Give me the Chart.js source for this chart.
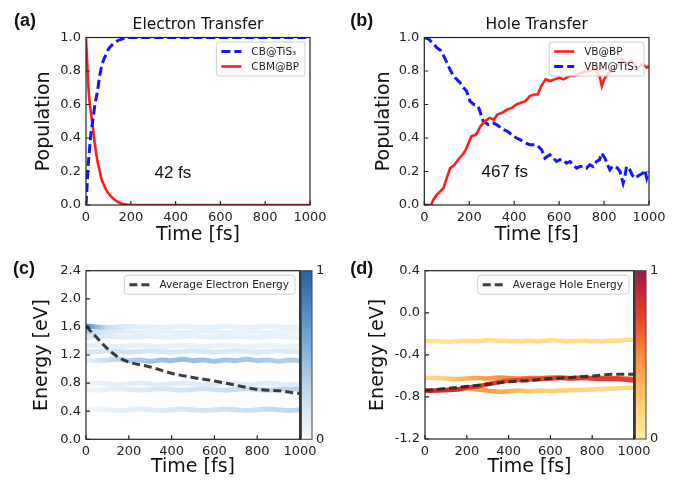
<!DOCTYPE html>
<html>
<head>
<meta charset="utf-8">
<script src="https://cdn.jsdelivr.net/npm/chart.js@4.4.1/dist/chart.umd.min.js"></script>
<style>
  html, body { margin: 0; padding: 0; background: #fff; }
  #wrap { position: relative; width: 689px; height: 483px; overflow: hidden; }
  #wrap canvas { position: absolute; }
</style>
</head>
<body>
<div id="wrap">
  <canvas id="chartA" width="345" height="250" style="left:0;top:0"></canvas>
  <canvas id="chartB" width="344" height="250" style="left:345px;top:0"></canvas>
  <canvas id="chartC" width="345" height="253" style="left:0;top:230px"></canvas>
  <canvas id="chartD" width="344" height="253" style="left:345px;top:230px"></canvas>
</div>
<script>
// tick labels
const timeTicks = [0, 200, 400, 600, 800, 1000];
const popTicks = [0, 0.2, 0.4, 0.6, 0.8, 1.0];
const elecTicks = [0, 0.4, 0.8, 1.2, 1.6, 2.0, 2.4];
const holeTicks = [-1.2, -0.8, -0.4, 0, 0.4];
const cbarTicks = [0, 1];

// (a) electron transfer
const timeA = [0, 5, 10, 15, 20, 25, 30, 40, 50, 60, 70, 80, 90, 100, 120, 140, 160, 180, 200, 1000];
const cbTiS3 = [0, 0.12, 0.24, 0.32, 0.4, 0.46, 0.5, 0.6, 0.67, 0.76, 0.83, 0.87, 0.9, 0.93, 0.96, 0.98, 0.99, 1, 1, 1];
const cbmBP = [1, 0.86, 0.72, 0.63, 0.57, 0.52, 0.47, 0.36, 0.27, 0.21, 0.15, 0.12, 0.09, 0.07, 0.04, 0.02, 0.008, 0.003, 0, 0];

// (b) hole transfer
const timeVB = [0, 30, 40, 55, 70, 85, 100, 115, 135, 150, 170, 185, 200, 210, 230, 250, 270, 290, 310, 325,
  345, 370, 390, 410, 430, 450, 470, 490, 505, 520, 540, 560, 580, 600, 620, 645, 670, 700, 730, 760,
  780, 790, 800, 820, 840, 860, 880, 900, 920, 950, 970, 990, 1000];
const vbBP = [0, 0, 0.03, 0.06, 0.08, 0.1, 0.16, 0.22, 0.24, 0.27, 0.3, 0.33, 0.38, 0.41, 0.42, 0.47, 0.5, 0.52, 0.51, 0.54,
  0.55, 0.57, 0.58, 0.6, 0.61, 0.62, 0.65, 0.66, 0.66, 0.71, 0.75, 0.74, 0.75, 0.76, 0.75, 0.77, 0.77, 0.79, 0.8, 0.81,
  0.77, 0.71, 0.75, 0.79, 0.8, 0.83, 0.87, 0.84, 0.86, 0.82, 0.84, 0.82, 0.83];
const timeVBM = [0, 20, 35, 55, 75, 90, 107, 129, 145, 159, 175, 188, 203, 220, 240, 262, 285, 305, 322, 352,
  370, 389, 410, 426, 450, 470, 500, 522, 537, 559, 574, 589, 603, 618, 633, 648, 663, 678, 693, 707,
  722, 737, 752, 767, 780, 789, 804, 815, 826, 837, 848, 860, 871, 885, 893, 900, 915, 925, 937, 948,
  960, 972, 982, 990, 1000];
const vbmTiS3 = [1.0, 0.99, 0.97, 0.94, 0.92, 0.88, 0.83, 0.77, 0.75, 0.73, 0.7, 0.68, 0.62, 0.6, 0.59, 0.5, 0.48, 0.49, 0.48, 0.45,
  0.44, 0.42, 0.4, 0.39, 0.37, 0.36, 0.36, 0.33, 0.28, 0.3, 0.28, 0.26, 0.27, 0.27, 0.25, 0.26, 0.24, 0.22, 0.23, 0.23,
  0.22, 0.24, 0.23, 0.26, 0.27, 0.31, 0.28, 0.24, 0.21, 0.23, 0.23, 0.22, 0.2, 0.13, 0.17, 0.23, 0.21, 0.18, 0.16, 0.17,
  0.18, 0.19, 0.21, 0.16, 0.2];

// (c), (d) state energies every 50 fs, populations every 100 fs
const bandTimes = [0, 50, 100, 150, 200, 250, 300, 350, 400, 450, 500, 550, 600, 650, 700, 750, 800, 850, 900, 950, 1000];
const popTimes = [0, 100, 200, 300, 400, 500, 600, 700, 800, 900, 1000];

const elecEnergies = [
  [1.61, 1.6, 1.59, 1.6, 1.61, 1.6, 1.6, 1.59, 1.6, 1.61, 1.6, 1.59, 1.6, 1.61, 1.6, 1.59, 1.6, 1.61, 1.6, 1.59, 1.6],
  [1.53, 1.52, 1.53, 1.54, 1.53, 1.52, 1.53, 1.54, 1.53, 1.52, 1.53, 1.54, 1.53, 1.52, 1.53, 1.54, 1.53, 1.52, 1.53, 1.54, 1.53],
  [1.45, 1.46, 1.47, 1.46, 1.45, 1.46, 1.47, 1.46, 1.45, 1.46, 1.47, 1.46, 1.45, 1.46, 1.47, 1.46, 1.45, 1.46, 1.47, 1.46, 1.45],
  [1.33, 1.34, 1.33, 1.32, 1.33, 1.34, 1.33, 1.32, 1.33, 1.34, 1.33, 1.32, 1.33, 1.34, 1.33, 1.32, 1.33, 1.34, 1.33, 1.32, 1.33],
  [1.24, 1.25, 1.26, 1.25, 1.24, 1.25, 1.26, 1.25, 1.24, 1.25, 1.26, 1.25, 1.24, 1.25, 1.26, 1.25, 1.24, 1.25, 1.26, 1.25, 1.24],
  [1.13, 1.12, 1.13, 1.14, 1.12, 1.13, 1.11, 1.13, 1.12, 1.14, 1.12, 1.13, 1.11, 1.13, 1.12, 1.14, 1.12, 1.13, 1.11, 1.13, 1.12],
  [0.79, 0.8, 0.79, 0.78, 0.79, 0.8, 0.79, 0.78, 0.79, 0.8, 0.79, 0.78, 0.79, 0.8, 0.79, 0.78, 0.79, 0.8, 0.79, 0.78, 0.79],
  [0.71, 0.7, 0.71, 0.72, 0.71, 0.7, 0.71, 0.72, 0.71, 0.7, 0.71, 0.72, 0.71, 0.7, 0.71, 0.72, 0.71, 0.7, 0.71, 0.72, 0.71],
  [0.42, 0.43, 0.42, 0.41, 0.42, 0.43, 0.42, 0.41, 0.42, 0.43, 0.42, 0.41, 0.42, 0.43, 0.42, 0.41, 0.42, 0.43, 0.42, 0.41, 0.42]
];
const elecPops = [
  [0.75, 0.25, 0.12, 0.1, 0.08, 0.08, 0.08, 0.07, 0.07, 0.07, 0.07],
  [0.3, 0.15, 0.1, 0.08, 0.08, 0.08, 0.07, 0.07, 0.07, 0.06, 0.06],
  [0.15, 0.12, 0.1, 0.08, 0.08, 0.08, 0.08, 0.08, 0.07, 0.07, 0.07],
  [0.1, 0.1, 0.08, 0.07, 0.07, 0.07, 0.07, 0.06, 0.06, 0.06, 0.06],
  [0.15, 0.2, 0.2, 0.18, 0.17, 0.16, 0.15, 0.15, 0.14, 0.14, 0.13],
  [0.05, 0.25, 0.35, 0.42, 0.45, 0.45, 0.42, 0.4, 0.38, 0.36, 0.35],
  [0.05, 0.08, 0.1, 0.12, 0.12, 0.12, 0.13, 0.12, 0.12, 0.12, 0.12],
  [0.04, 0.08, 0.12, 0.15, 0.18, 0.2, 0.22, 0.25, 0.28, 0.3, 0.32],
  [0.04, 0.06, 0.1, 0.12, 0.15, 0.18, 0.2, 0.22, 0.25, 0.28, 0.32]
];
const avgTimesC = [0, 50, 100, 150, 200, 300, 400, 500, 600, 700, 800, 900, 1000];
const avgElectron = [1.61, 1.45, 1.29, 1.17, 1.1, 1.03, 0.94, 0.88, 0.83, 0.77, 0.71, 0.69, 0.65];

// red (most populated) state first so it is drawn over the others
const holeEnergies = [
  [-0.74, -0.74, -0.735, -0.73, -0.71, -0.7, -0.68, -0.66, -0.645, -0.64, -0.635, -0.63, -0.625, -0.62, -0.625, -0.62, -0.625, -0.63, -0.63, -0.635, -0.645],
  [-0.27, -0.27, -0.275, -0.27, -0.265, -0.27, -0.26, -0.265, -0.27, -0.27, -0.265, -0.27, -0.26, -0.265, -0.27, -0.265, -0.27, -0.27, -0.265, -0.26, -0.255],
  [-0.62, -0.62, -0.625, -0.63, -0.625, -0.62, -0.625, -0.615, -0.62, -0.625, -0.62, -0.62, -0.615, -0.615, -0.62, -0.615, -0.62, -0.62, -0.62, -0.625, -0.63],
  [-0.74, -0.74, -0.735, -0.73, -0.72, -0.73, -0.74, -0.75, -0.745, -0.74, -0.745, -0.74, -0.745, -0.74, -0.735, -0.735, -0.73, -0.725, -0.72, -0.715, -0.71]
];
const holePops = [
  [0.85, 0.85, 0.8, 0.75, 0.7, 0.7, 0.72, 0.75, 0.75, 0.75, 0.72],
  [0.08, 0.08, 0.1, 0.1, 0.1, 0.1, 0.1, 0.1, 0.1, 0.1, 0.12],
  [0.12, 0.2, 0.35, 0.45, 0.5, 0.55, 0.55, 0.6, 0.6, 0.65, 0.65],
  [0.1, 0.2, 0.35, 0.45, 0.35, 0.25, 0.2, 0.18, 0.15, 0.15, 0.15]
];
const avgTimesD = [0, 100, 200, 300, 400, 500, 600, 700, 800, 900, 1000];
const avgHole = [-0.74, -0.72, -0.7, -0.68, -0.655, -0.645, -0.625, -0.615, -0.6, -0.585, -0.585];

Chart.defaults.font.family = '"DejaVu Sans", sans-serif';
Chart.defaults.color = '#222';

const pts = (xs, ys) => xs.map((x, i) => ({ x: x, y: ys[i] }));

function makeCmap(stops) {
  return p => {
    p = Math.max(0, Math.min(1, p));
    for (let i = 1; i < stops.length; i++) {
      if (p <= stops[i][0]) {
        const [p0, c0] = stops[i - 1], [p1, c1] = stops[i];
        const f = (p - p0) / (p1 - p0);
        return 'rgb(' + c0.map((c, k) => Math.round(c + (c1[k] - c) * f)).join(',') + ')';
      }
    }
    return 'rgb(' + stops[stops.length - 1][1].join(',') + ')';
  };
}
const blues = makeCmap([[0, [246, 250, 254]], [0.25, [200, 222, 241]], [0.5, [138, 184, 220]], [0.75, [84, 140, 196]], [1, [46, 96, 160]]]);
const ylOrRd = makeCmap([[0, [255, 238, 165]], [0.25, [254, 200, 100]], [0.5, [249, 140, 62]], [0.7, [236, 70, 48]], [0.85, [212, 38, 52]], [1, [146, 30, 74]]]);

function bandSet(energies, pops, cmap, width) {
  return {
    data: pts(bandTimes, energies),
    borderWidth: width,
    tension: 0.4,
    pointRadius: 0,
    borderColor: ctx => {
      const ch = ctx.chart;
      if (!ch.chartArea) return cmap(pops[0]);
      const xs = ch.scales.x;
      const g = ch.ctx.createLinearGradient(xs.getPixelForValue(popTimes[0]), 0,
        xs.getPixelForValue(popTimes[popTimes.length - 1]), 0);
      pops.forEach((p, i) => g.addColorStop(i / (pops.length - 1), cmap(p)));
      return g;
    }
  };
}

function scaleOpts(tickVals, title, size, titlePad, fmt) {
  return {
    type: 'linear',
    min: tickVals[0],
    max: tickVals[tickVals.length - 1],
    grid: { display: false, drawTicks: false },
    border: { display: false },
    afterBuildTicks: s => { s.ticks = tickVals.map(v => ({ value: v })); },
    afterFit: s => { if (s.isHorizontal()) s.height = size; else s.width = size; },
    ticks: { autoSkip: false, maxRotation: 0, padding: 5, font: { size: 13 }, color: '#222', callback: fmt },
    title: { display: true, text: title, font: { size: 19 }, color: '#111', padding: titlePad }
  };
}

// frame, inward ticks, colorbar, legend box and text labels
const deco = {
  id: 'deco',
  afterDraw(chart, args, o) {
    const { ctx, chartArea: a, scales: { x, y } } = chart;
    ctx.save();
    if (o.cbar) {
      const cw = 12;
      const g = ctx.createLinearGradient(0, a.bottom, 0, a.top);
      for (let i = 0; i <= 10; i++) g.addColorStop(i / 10, o.cbar(i / 10));
      ctx.fillStyle = g;
      ctx.fillRect(a.right, a.top, cw, a.bottom - a.top);
      ctx.strokeStyle = '#444';
      ctx.lineWidth = 1;
      ctx.strokeRect(a.right, a.top, cw, a.bottom - a.top);
      ctx.fillStyle = '#555';
      ctx.fillRect(a.right - 1, a.top, 3, a.bottom - a.top);
      ctx.fillStyle = '#222';
      ctx.font = '13px "DejaVu Sans"';
      ctx.textAlign = 'left';
      ctx.textBaseline = 'middle';
      cbarTicks.forEach(v => {
        ctx.fillText(String(v), a.right + cw + 4, a.bottom - v * (a.bottom - a.top));
      });
    }
    ctx.strokeStyle = '#222';
    ctx.lineWidth = 1.2;
    ctx.strokeRect(a.left, a.top, a.right - a.left, a.bottom - a.top);
    ctx.beginPath();
    x.ticks.forEach(t => {
      const px = x.getPixelForValue(t.value);
      ctx.moveTo(px, a.bottom); ctx.lineTo(px, a.bottom - 4);
    });
    y.ticks.forEach(t => {
      const py = y.getPixelForValue(t.value);
      ctx.moveTo(a.left, py); ctx.lineTo(a.left + 4, py);
    });
    ctx.stroke();

    // legend
    const items = chart.data.datasets.filter(d => d.label);
    if (items.length) {
      ctx.font = '10.5px "DejaVu Sans"';
      const tw = Math.max(...items.map(d => ctx.measureText(d.label).width));
      const rowH = 15, lineLen = 20;
      const bw = 5 + lineLen + 10 + tw + 6, bh = items.length * rowH + 4;
      const bx = a.right - 5 - bw, by = a.top + 4.5;
      ctx.fillStyle = 'rgba(255,255,255,0.8)';
      ctx.strokeStyle = '#d0d0d0';
      ctx.lineWidth = 1;
      ctx.beginPath();
      ctx.roundRect(bx, by, bw, bh, 3);
      ctx.fill();
      ctx.stroke();
      items.forEach((d, i) => {
        const cy = by + 2 + rowH * (i + 0.5);
        ctx.strokeStyle = d.borderColor;
        ctx.lineWidth = d.borderWidth;
        ctx.setLineDash(d.borderDash || []);
        ctx.beginPath();
        ctx.moveTo(bx + 5, cy); ctx.lineTo(bx + 5 + lineLen, cy);
        ctx.stroke();
        ctx.setLineDash([]);
        ctx.fillStyle = '#222';
        ctx.textAlign = 'left';
        ctx.textBaseline = 'middle';
        ctx.fillText(d.label, bx + 5 + lineLen + 10, cy + 0.5);
      });
    }

    ctx.fillStyle = '#111';
    ctx.textAlign = 'center';
    if (o.title) {
      ctx.font = '15.5px "DejaVu Sans"';
      ctx.textBaseline = 'alphabetic';
      ctx.fillText(o.title, (a.left + a.right) / 2, 29);
    }
    ctx.textBaseline = 'middle';
    ctx.font = 'bold 18px "Liberation Sans"';
    ctx.fillText(o.letter[0], o.letter[1], o.letter[2]);
    if (o.note) {
      ctx.font = '17px "Liberation Sans"';
      ctx.fillText(o.note[0], x.getPixelForValue(o.note[1]), y.getPixelForValue(o.note[2]));
    }
    ctx.restore();
  }
};

function makeChart(id, datasets, cfg) {
  return new Chart(document.getElementById(id), {
    type: 'line',
    data: { datasets: datasets },
    plugins: [deco],
    options: {
      responsive: false,
      animation: false,
      devicePixelRatio: 1,
      events: [],
      layout: { padding: cfg.padding },
      elements: { point: { radius: 0 }, line: { borderCapStyle: 'butt' } },
      plugins: { legend: { display: false }, tooltip: { enabled: false }, deco: cfg.deco },
      scales: { x: cfg.x, y: cfg.y }
    }
  });
}

const fmt1 = v => Number(v).toFixed(1);
const fmt0 = v => String(v);

makeChart('chartA', [
  { label: 'CB@TiS\u2083', data: pts(timeA, cbTiS3), borderColor: '#1414ff', borderWidth: 3, borderDash: [9, 4], cubicInterpolationMode: 'monotone', clip: 0 },
  { label: 'CBM@BP', data: pts(timeA, cbmBP), borderColor: '#ff1c1c', borderWidth: 2.6, cubicInterpolationMode: 'monotone', clip: 0 }
], {
  padding: { top: 37.5, right: 35, left: 0, bottom: 0 },
  x: scaleOpts(timeTicks, 'Time [fs]', 45, { top: 0, bottom: 3.3 }, fmt0),
  y: scaleOpts(popTicks, 'Population', 86, { top: 32.6, bottom: 0 }, fmt1),
  deco: { title: 'Electron Transfer', letter: ['(a)', 25, 21.5], note: ['42 fs', 388, 0.19] }
});

makeChart('chartB', [
  { label: 'VB@BP', data: pts(timeVB, vbBP), borderColor: '#ff1c1c', borderWidth: 2.6, clip: 0 },
  { label: 'VBM@TiS\u2083', data: pts(timeVBM, vbmTiS3), borderColor: '#1414ff', borderWidth: 3, borderDash: [9, 4], clip: 0 }
], {
  padding: { top: 37.5, right: 40, left: 0, bottom: 0 },
  x: scaleOpts(timeTicks, 'Time [fs]', 45, { top: 0, bottom: 3.3 }, fmt0),
  y: scaleOpts(popTicks, 'Population', 79.3, { top: 27.2, bottom: 0 }, fmt1),
  deco: { title: 'Hole Transfer', letter: ['(b)', 16.7, 21.5], note: ['467 fs', 358, 0.195] }
});

makeChart('chartC', [
  { label: 'Average Electron Energy', data: pts(avgTimesC, avgElectron), borderColor: 'rgba(40,40,40,0.9)', borderWidth: 3, borderDash: [8, 4], cubicInterpolationMode: 'monotone', clip: 0 }
].concat(elecEnergies.map((e, i) => bandSet(e, elecPops[i], blues, 5))), {
  padding: { top: 40.7, right: 45, left: 0, bottom: 0 },
  x: scaleOpts(timeTicks, 'Time [fs]', 43.7, { top: 0, bottom: 4.1 }, fmt0),
  y: scaleOpts(elecTicks, 'Energy [eV]', 86, { top: 30.6, bottom: 0 }, fmt1),
  deco: { letter: ['(c)', 24, 39], cbar: blues }
});

makeChart('chartD', [
  { label: 'Average Hole Energy', data: pts(avgTimesD, avgHole), borderColor: 'rgba(40,40,40,0.9)', borderWidth: 3, borderDash: [8, 4], cubicInterpolationMode: 'monotone', clip: 0 }
].concat(holeEnergies.map((e, i) => bandSet(e, holePops[i], ylOrRd, 4.5))), {
  padding: { top: 40.7, right: 55, left: 0, bottom: 0 },
  x: scaleOpts(timeTicks, 'Time [fs]', 44, { top: 0, bottom: 4.1 }, fmt0),
  y: scaleOpts(holeTicks, 'Energy [eV]', 80, { top: 21.6, bottom: 0 }, fmt1),
  deco: { letter: ['(d)', 16.7, 39], cbar: ylOrRd }
});
</script>
</body>
</html>
